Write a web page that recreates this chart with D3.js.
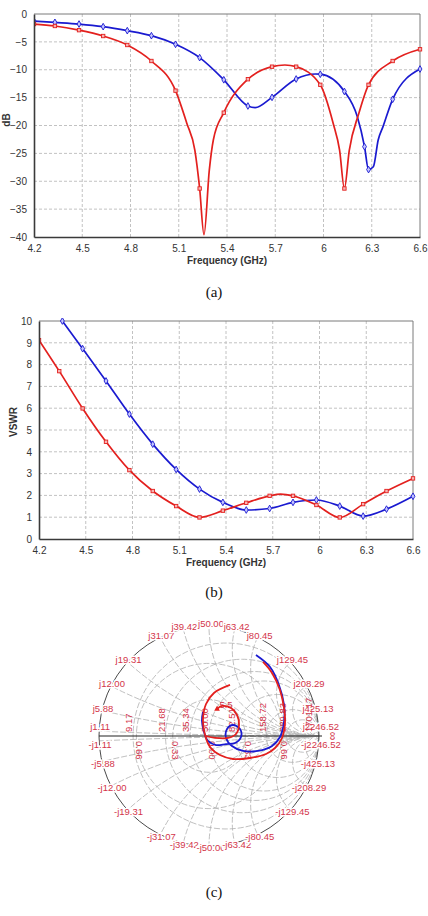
<!DOCTYPE html>
<html lang="en">
<head>
<meta charset="UTF-8">
<title>Return loss, VSWR and Smith chart</title>
<style>
body { margin: 0; background: #fff; }
svg { display: block; }
</style>
</head>
<body>
<svg id="chart" width="428" height="916"></svg>
<script src="https://d3js.org/d3.v7.min.js"></script>
<script>
// ---- data ----
const freqTicks = [4.2, 4.5, 4.8, 5.1, 5.4, 5.7, 6, 6.3, 6.6];
const dbTicks = [0, -5, -10, -15, -20, -25, -30, -35, -40];
const vswrTicks = [0, 1, 2, 3, 4, 5, 6, 7, 8, 9, 10];
const markerFreq = [4.2, 4.33, 4.48, 4.63, 4.78, 4.93, 5.08, 5.23, 5.38, 5.53, 5.68, 5.83, 5.98, 6.13, 6.28, 6.43, 6.6];

// (a) S11 in dB
const redDbFreq = [4.2, 4.33, 4.48, 4.63, 4.78, 4.93, 5.08, 5.15, 5.2, 5.23, 5.257, 5.29, 5.315, 5.38, 5.53, 5.68, 5.76, 5.83, 5.98, 6.06, 6.1, 6.13, 6.16, 6.22, 6.28, 6.43, 6.6];
const redDb = [-1.8, -2.15, -2.9, -3.95, -5.56, -8.43, -13.75, -19.6, -24.4, -31.3, -39.6, -28, -22.6, -17.7, -11.7, -9.45, -9.15, -9.45, -12.7, -19.6, -24.4, -31.3, -24.5, -17.8, -12.7, -8.43, -6.33];
const blueDbFreq = [4.2, 4.33, 4.48, 4.63, 4.78, 4.93, 5.08, 5.23, 5.38, 5.53, 5.575, 5.68, 5.83, 5.95, 5.98, 6.13, 6.21, 6.255, 6.28, 6.31, 6.34, 6.37, 6.43, 6.6];
const blueDb = [-1.26, -1.5, -1.8, -2.27, -2.99, -3.89, -5.44, -7.83, -11.8, -16.5, -16.8, -14.95, -11.66, -10.76, -10.8, -13.9, -18.4, -23.8, -27.9, -27.4, -22.6, -20.2, -15.3, -9.87];

// (b) VSWR
const redVswrFreq = [4.2, 4.33, 4.48, 4.63, 4.78, 4.93, 5.08, 5.23, 5.38, 5.53, 5.68, 5.75, 5.83, 5.98, 6.13, 6.28, 6.43, 6.6];
const redVswr = [9.12, 7.7, 5.99, 4.46, 3.16, 2.2, 1.51, 0.99, 1.3, 1.66, 1.98, 2.06, 1.98, 1.56, 0.99, 1.6, 2.2, 2.78];
const blueVswrFreq = [4.35, 4.48, 4.63, 4.78, 4.93, 5.08, 5.23, 5.38, 5.53, 5.68, 5.83, 5.98, 6.13, 6.28, 6.43, 6.6];
const blueVswr = [10.0, 8.73, 7.25, 5.73, 4.35, 3.19, 2.29, 1.68, 1.33, 1.4, 1.68, 1.79, 1.51, 1.05, 1.37, 1.96];

// (c) Smith chart, reflection coefficient (re, im)
const redOuterRe = [0.491, 0.573, 0.645, 0.682, 0.691, 0.664, 0.6, 0.518, 0.373, 0.218, 0.1, 0.009, -0.036, -0.055, -0.027, 0.045, 0.191];
const redOuterIm = [0.673, 0.573, 0.418, 0.255, 0.127, -0.018, -0.109, -0.164, -0.2, -0.209, -0.173, -0.1, 0.009, 0.145, 0.291, 0.391, 0.464];
const redInnerRe = [-0.027, 0.055, 0.173, 0.245, 0.273, 0.255, 0.2, 0.118, 0.073];
const redInnerIm = [0, -0.018, -0.018, 0.018, 0.1, 0.191, 0.255, 0.273, 0.245];
const blueRe = [0.427, 0.555, 0.636, 0.682, 0.682, 0.645, 0.573, 0.445, 0.309, 0.209, 0.155, 0.164, 0.218, 0.282, 0.291, 0.236, 0.155, 0.064, -0.009, -0.045, -0.064, -0.055];
const blueIm = [0.736, 0.627, 0.464, 0.282, 0.127, -0.009, -0.091, -0.136, -0.136, -0.091, -0.018, 0.064, 0.1, 0.064, -0.009, -0.064, -0.073, -0.082, -0.045, 0.036, 0.136, 0.218];

const reactLabels = [1.11, 5.88, 12.00, 19.31, 31.07, 39.42, 50.00, 63.42, 80.45, 129.45, 208.29, 425.13, 2246.52];
const resLabels = [9.17, 21.68, 35.34, 50.00, 82.51, 158.72, 289.83, 1701.17];
const rhoLabels = [-0.66, -0.33, 0, 0.33, 0.66];

const RED = "#e3201e";
const BLUE = "#1a1ad0";
const LABEL_RED = "#d3354a";
const Z0 = 50;

const svg = d3.select("#chart");
svg.append("rect").attr("width", 428).attr("height", 916).attr("fill", "#fff");

const zip = (xs, ys) => xs.map((x, i) => [x, ys[i]]);
const isMarker = f => markerFreq.some(m => Math.abs(m - f) < 0.026);

function drawPanel(o) {
    const x = d3.scaleLinear().domain([4.2, 6.6]).range([o.left, o.right]);
    const y = d3.scaleLinear().domain(o.domain).range([o.bottom, o.top]);
    const g = svg.append("g");

    // grid
    g.selectAll(".vg").data(freqTicks.slice(1, -1)).join("line")
        .attr("x1", d => x(d)).attr("x2", d => x(d))
        .attr("y1", o.top).attr("y2", o.bottom)
        .attr("stroke", "#c2c2c2").attr("stroke-dasharray", "3,2");
    g.selectAll(".hg").data(o.ticks.filter(t => t !== o.domain[0] && t !== o.domain[1])).join("line")
        .attr("x1", o.left).attr("x2", o.right)
        .attr("y1", d => y(d)).attr("y2", d => y(d))
        .attr("stroke", "#c2c2c2").attr("stroke-dasharray", "3,2");

    // frame
    g.append("line").attr("x1", o.left).attr("x2", o.right).attr("y1", o.top).attr("y2", o.top).attr("stroke", "#7a7a7a");
    g.append("line").attr("x1", o.right).attr("x2", o.right).attr("y1", o.top).attr("y2", o.bottom).attr("stroke", "#7a7a7a");

    const xAxis = d3.axisBottom(x).tickValues(freqTicks).tickSize(0).tickPadding(8).tickFormat(d3.format("~g"));
    const yAxis = d3.axisLeft(y).tickValues(o.ticks).tickSize(0).tickPadding(7).tickFormat(d3.format("~g"));
    const ax = g.append("g").attr("transform", `translate(0,${o.bottom})`).call(xAxis);
    const ay = g.append("g").attr("transform", `translate(${o.left},0)`).call(yAxis);
    [ax, ay].forEach(a => {
        a.select(".domain").attr("stroke", "#3a3a3a").attr("stroke-width", 1.6);
        a.selectAll("text").attr("font-family", "Liberation Sans, Arial, sans-serif")
            .attr("font-size", 10).attr("fill", "#333");
    });

    g.append("text").attr("x", (o.left + o.right) / 2).attr("y", o.bottom + 27)
        .attr("text-anchor", "middle").attr("font-family", "Liberation Sans, Arial, sans-serif")
        .attr("font-size", 10).attr("font-weight", "bold").attr("fill", "#333")
        .text("Frequency (GHz)");
    g.append("text").attr("transform", `translate(${o.ylabX},${o.ylabY}) rotate(-90)`)
        .attr("text-anchor", "middle").attr("dy", "0.35em")
        .attr("font-family", "Liberation Sans, Arial, sans-serif")
        .attr("font-size", 10).attr("font-weight", "bold").attr("fill", "#333")
        .text(o.ylabel);

    // clip and curves
    const clipId = "clip" + o.id;
    svg.append("clipPath").attr("id", clipId).append("rect")
        .attr("x", o.left).attr("y", o.top - 3).attr("width", o.right - o.left + 3).attr("height", o.bottom - o.top + 3);
    const line = d3.line().x(d => x(d[0])).y(d => y(d[1])).curve(d3.curveMonotoneX);
    const cg = g.append("g").attr("clip-path", `url(#${clipId})`);
    o.series.forEach(s => {
        cg.append("path").datum(s.pts).attr("d", line)
            .attr("fill", "none").attr("stroke", s.color).attr("stroke-width", 1.7);
        const m = s.pts.filter(d => isMarker(d[0]));
        if (s.shape === "square") {
            cg.selectAll(null).data(m).join("rect")
                .attr("x", d => x(d[0]) - 1.7).attr("y", d => y(d[1]) - 1.7)
                .attr("width", 3.4).attr("height", 3.4)
                .attr("fill", "#f6b4b4").attr("stroke", s.color).attr("stroke-width", 0.9);
        } else {
            cg.selectAll(null).data(m).join("path")
                .attr("d", d3.symbol(d3.symbolDiamond, 13))
                .attr("transform", d => `translate(${x(d[0])},${y(d[1])})`)
                .attr("fill", "#c4c4ff").attr("stroke", s.color).attr("stroke-width", 0.9);
        }
    });
    // left/bottom axes over curves
    ax.raise(); ay.raise();
}

drawPanel({
    id: "a", left: 34, right: 420, top: 14, bottom: 237,
    domain: [-40, 0], ticks: dbTicks, ylabel: "dB", ylabX: 6, ylabY: 120,
    series: [
        { pts: zip(blueDbFreq, blueDb), color: BLUE, shape: "diamond" },
        { pts: zip(redDbFreq, redDb), color: RED, shape: "square" }
    ]
});
drawPanel({
    id: "b", left: 39, right: 413, top: 321, bottom: 539,
    domain: [0, 10], ticks: vswrTicks, ylabel: "VSWR", ylabX: 13, ylabY: 422,
    series: [
        { pts: zip(blueVswrFreq, blueVswr), color: BLUE, shape: "diamond" },
        { pts: zip(redVswrFreq, redVswr), color: RED, shape: "square" }
    ]
});

// captions
[["(a)", 297], ["(b)", 597], ["(c)", 897]].forEach(c => {
    svg.append("text").attr("x", 214).attr("y", c[1]).attr("text-anchor", "middle")
        .attr("font-family", "Liberation Serif, Times New Roman, serif").attr("font-size", 15)
        .attr("fill", "#111").text(c[0]);
});

// ---- Smith chart ----
const cx = 209, cy = 736, R = 110;
const gx = d3.scaleLinear().domain([-1, 1]).range([cx - R, cx + R]);
const gy = d3.scaleLinear().domain([-1, 1]).range([cy + R, cy - R]);
const sg = svg.append("g");
svg.append("clipPath").attr("id", "smithClip").append("circle").attr("cx", cx).attr("cy", cy).attr("r", R);
const grid = sg.append("g").attr("clip-path", "url(#smithClip)")
    .attr("fill", "none").attr("stroke", "#b0b0b0").attr("stroke-width", 0.8).attr("stroke-dasharray", "6,2");

// constant resistance circles
grid.selectAll(null).data(resLabels).join("circle")
    .attr("cx", d => gx((d / Z0) / (1 + d / Z0)))
    .attr("cy", cy)
    .attr("r", d => (gx(1) - gx(0)) / (1 + d / Z0));
// constant reactance arcs
const xs = reactLabels.flatMap(v => [v, -v]);
grid.selectAll(null).data(xs).join("circle")
    .attr("cx", gx(1))
    .attr("cy", d => gy(Z0 / d))
    .attr("r", d => (gx(1) - gx(0)) * Math.abs(Z0 / d));
// constant |gamma| circles
grid.selectAll(null).data([0.33, 0.66]).join("circle")
    .attr("cx", cx).attr("cy", cy).attr("r", d => gx(d) - gx(0));

// outer circle and horizontal axis
sg.append("circle").attr("cx", cx).attr("cy", cy).attr("r", R)
    .attr("fill", "none").attr("stroke", "#4a4a4a").attr("stroke-width", 1);
sg.append("line").attr("x1", gx(-1)).attr("x2", gx(1) + 3).attr("y1", cy).attr("y2", cy)
    .attr("stroke", "#222").attr("stroke-width", 1.2);

// labels (under the curves)
const lab = sg.append("g").attr("font-family", "Liberation Sans, Arial, sans-serif")
    .attr("font-size", 9.5).attr("fill", LABEL_RED);
function haloText(sel) {
    return sel.attr("stroke", "#fff").attr("stroke-width", 3).attr("paint-order", "stroke");
}
const reactPts = reactLabels.flatMap(v => [1, -1].map(sgn => {
    const xn = sgn * v / Z0;
    const re = (xn * xn - 1) / (xn * xn + 1), im = 2 * xn / (xn * xn + 1);
    return { v, sgn, re, im };
}));
haloText(lab.selectAll(null).data(reactPts).join("text")
    .attr("x", d => gx(d.re) + (d.re < 0 ? 1 : 2))
    .attr("y", d => {
        const py = gy(d.im);
        return Math.abs(py - cy) < 9 ? cy - d.sgn * 9 : py - d.sgn * 2;
    })
    .attr("dy", "0.35em").attr("text-anchor", "middle")
    .text(d => (d.sgn < 0 ? "-j" : "j") + d.v.toFixed(2)));

lab.selectAll(null).data(resLabels).join("text")
    .attr("transform", d => {
        const r = d / Z0;
        return `translate(${gx((r - 1) / (r + 1)) - 4},${cy - 4}) rotate(-90)`;
    })
    .attr("dy", "0.35em")
    .text(d => d.toFixed(2));

lab.selectAll(null).data(rhoLabels).join("text")
    .attr("transform", d => `translate(${gx(d) + 3},${cy + 5}) rotate(90)`)
    .attr("dy", "0.35em")
    .text(d => Math.abs(d).toFixed(2));

lab.append("text").attr("transform", `translate(${gx(1) + 14},${cy}) rotate(90)`)
    .attr("text-anchor", "middle").attr("dy", "0.35em").attr("font-size", 12).text("\u221e");
lab.append("text").attr("x", gx(0.155)).attr("y", gy(0.285)).attr("text-anchor", "middle")
    .attr("dy", "0.35em").text("5.5");

// curves
const sline = d3.line().x(d => gx(d[0])).y(d => gy(d[1])).curve(d3.curveCatmullRom.alpha(0.5));
sg.append("path").datum(zip(blueRe, blueIm)).attr("d", sline)
    .attr("fill", "none").attr("stroke", BLUE).attr("stroke-width", 1.8);
sg.append("path").datum(zip(redOuterRe, redOuterIm)).attr("d", sline)
    .attr("fill", "none").attr("stroke", RED).attr("stroke-width", 1.8);
sg.append("path").datum(zip(redInnerRe, redInnerIm)).attr("d", sline)
    .attr("fill", "none").attr("stroke", RED).attr("stroke-width", 1.8);
// small arrow head at the end of the inner red loop
const n = redInnerRe.length - 1;
sg.append("path")
    .attr("d", d3.symbol(d3.symbolTriangle, 14))
    .attr("transform", `translate(${gx(redInnerRe[n])},${gy(redInnerIm[n])}) rotate(-120)`)
    .attr("fill", RED);
</script>
</body>
</html>
